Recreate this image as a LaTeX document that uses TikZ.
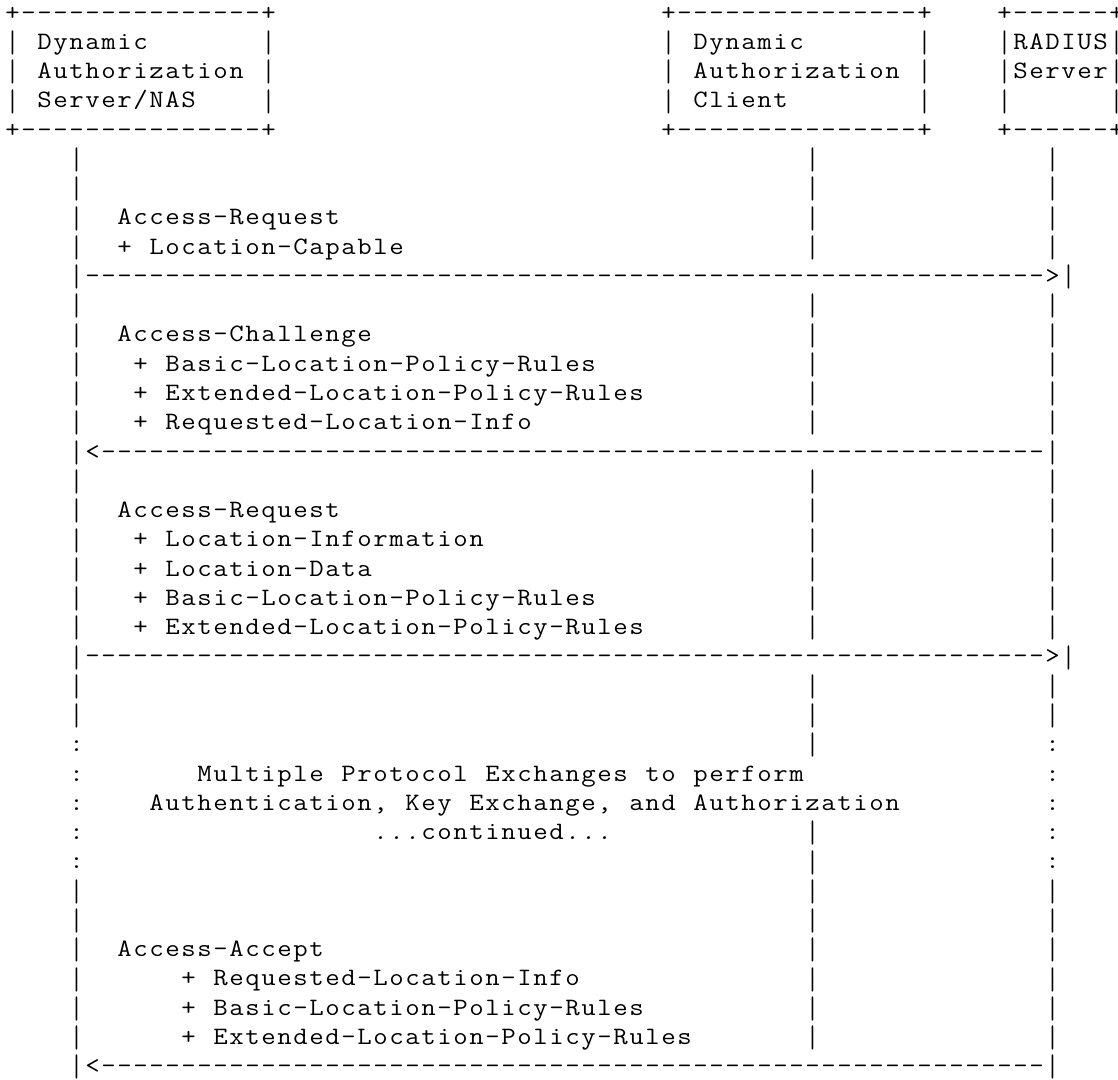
\documentclass[tikz,border=0pt]{standalone}
\usepackage{graphicx}
\newcommand\G[1]{\gridloop#1\relax}
\def\gridloop#1{\ifx\relax#1\else\hbox to 16pt{\hss\gridchar#1\hss}\expandafter\gridloop\fi}
\def\gridchar#1{\ifx-#1\scalebox{1.12}[1]{-}\else
  \ifx|#1\raisebox{-3.2pt}{\scalebox{1}[1.25]{|}}\else\scalebox{1.12}[1]{#1}\fi\fi}
% \AT{name}{column}{row}{text}: text on a 16pt x 29.27pt character grid, ~ = one space
\newcommand\AT[4]{\node[txt] (#1) at ({4.5pt+16pt*#2},{-20pt-29.27pt*(#3-1)}) {\G{#4}};}
\begin{document}
\begin{tikzpicture}[
  txt/.style={anchor=base west, inner sep=0pt, outer sep=0pt,
    font=\fontsize{25pt}{29pt}\selectfont\ttfamily}]
\useasboundingbox (0,0) rectangle (1118pt,-1079pt);
% ---- boxes
\AT{dasT}{0}{1}{+---------------+}
\AT{dasL2}{0}{2}{|}\AT{das2}{2}{2}{Dynamic}\AT{dasR2}{16}{2}{|}
\AT{dasL3}{0}{3}{|}\AT{das3}{2}{3}{Authorization}\AT{dasR3}{16}{3}{|}
\AT{dasL4}{0}{4}{|}\AT{das4}{2}{4}{Server/NAS}\AT{dasR4}{16}{4}{|}
\AT{dasB}{0}{5}{+---------------+}
\AT{dacT}{41}{1}{+---------------+}
\AT{dacL2}{41}{2}{|}\AT{dac2}{43}{2}{Dynamic}\AT{dacR2}{57}{2}{|}
\AT{dacL3}{41}{3}{|}\AT{dac3}{43}{3}{Authorization}\AT{dacR3}{57}{3}{|}
\AT{dacL4}{41}{4}{|}\AT{dac4}{43}{4}{Client}\AT{dacR4}{57}{4}{|}
\AT{dacB}{41}{5}{+---------------+}
\AT{radT}{62}{1}{+------+}
\AT{rad2}{62}{2}{|RADIUS|}
\AT{rad3}{62}{3}{|Server|}
\AT{radL4}{62}{4}{|}\AT{radR4}{69}{4}{|}
\AT{radB}{62}{5}{+------+}
% ---- plain lifeline rows
\foreach \r in {6,7,11,17,24,25,31,32}{
  \AT{lsA\r}{4}{\r}{|}\AT{lsB\r}{50}{\r}{|}\AT{lsC\r}{65}{\r}{|}}
% ---- labelled rows (side bars)
\foreach \r in {8,9,12,13,14,15,18,19,20,21,22,33,34,35,36}{
  \AT{lbA\r}{4}{\r}{|}\AT{lbB\r}{50}{\r}{|}\AT{lbC\r}{65}{\r}{|}}
% ---- message 1
\AT{m1a}{7}{8}{Access-Request}
\AT{m1b}{7}{9}{+~Location-Capable}
\AT{m1}{4}{10}{|------------------------------------------------------------>|}
% ---- message 2
\AT{m2a}{7}{12}{Access-Challenge}
\AT{m2b}{8}{13}{+~Basic-Location-Policy-Rules}
\AT{m2c}{8}{14}{+~Extended-Location-Policy-Rules}
\AT{m2d}{8}{15}{+~Requested-Location-Info}
\AT{m2}{4}{16}{|<-----------------------------------------------------------|}
% ---- message 3
\AT{m3a}{7}{18}{Access-Request}
\AT{m3b}{8}{19}{+~Location-Information}
\AT{m3c}{8}{20}{+~Location-Data}
\AT{m3d}{8}{21}{+~Basic-Location-Policy-Rules}
\AT{m3e}{8}{22}{+~Extended-Location-Policy-Rules}
\AT{m3}{4}{23}{|------------------------------------------------------------>|}
% ---- continuation
\foreach \r in {26,27,28,29,30}{\AT{cA\r}{4}{\r}{:}\AT{cC\r}{65}{\r}{:}}
\AT{cB26}{50}{26}{|}\AT{cB29}{50}{29}{|}\AT{cB30}{50}{30}{|}
\AT{c27}{12}{27}{Multiple~Protocol~Exchanges~to~perform}
\AT{c28}{9}{28}{Authentication,~Key~Exchange,~and~Authorization}
\AT{c29}{23}{29}{...continued...}
% ---- message 4
\AT{m4a}{7}{33}{Access-Accept}
\AT{m4b}{11}{34}{+~Requested-Location-Info}
\AT{m4c}{11}{35}{+~Basic-Location-Policy-Rules}
\AT{m4d}{11}{36}{+~Extended-Location-Policy-Rules}
\AT{m4}{4}{37}{|<-----------------------------------------------------------|}
\end{tikzpicture}
\end{document}
